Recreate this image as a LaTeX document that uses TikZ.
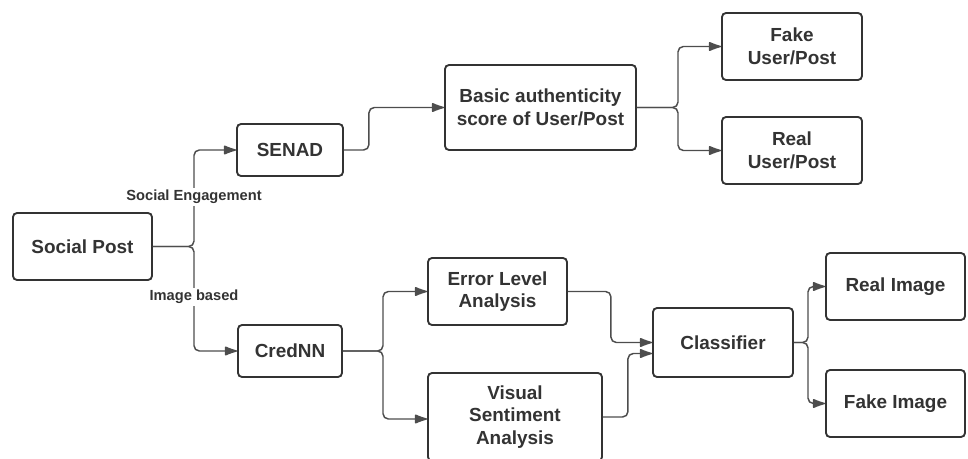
\documentclass[tikz,border=0pt]{standalone}
\usepackage{fontspec}
\setmainfont{Liberation Sans}
\usepackage{tikz}
\usetikzlibrary{shapes,arrows.meta,positioning}

\definecolor{ink}{HTML}{333333}
\definecolor{wire}{HTML}{4D4D4D}

\begin{document}
\begin{tikzpicture}[x=0.75pt, y=-0.75pt,
    box/.style={rectangle, draw=ink, line width=1.4pt, rounded corners=3pt, fill=white, align=center, text=ink,
        font=\fontsize{14.2pt}{17pt}\selectfont\bfseries, inner sep=0pt},
    lbl/.style={font=\fontsize{11pt}{13pt}\selectfont\bfseries, text=ink, fill=white, inner sep=1.5pt},
    wirepath/.style={draw=wire, line width=1.1pt, rounded corners=4pt,
        -{Latex[length=11pt,width=7.5pt,round]}}]
    \useasboundingbox (0,0) rectangle (968,459);
    \clip (0,0) rectangle (968,459);
    % nodes
    \node [box, minimum width=104.25pt, minimum height=50.25pt] (post) at (82.5,246.5) {Social Post};
    \node [box, minimum width=79.5pt, minimum height=39pt] (senad) at (290,150) {SENAD};
    \node [box, minimum width=143.25pt, minimum height=63.75pt] (basic) at (540.5,107.5) {Basic authenticity\\score of User/Post};
    \node [box, minimum width=105pt, minimum height=50.25pt] (fakeup) at (792,46.5) {Fake\\User/Post};
    \node [box, minimum width=105pt, minimum height=50.25pt] (realup) at (792,150.5) {Real\\User/Post};
    \node [box, minimum width=78pt, minimum height=39pt] (crednn) at (290,351) {CredNN};
    \node [box, minimum width=104.25pt, minimum height=50.25pt] (ela) at (497.5,291.5) {Error Level\\Analysis};
    \node [box, minimum width=130.5pt, minimum height=66pt] (vsa) at (515,417) {Visual\\Sentiment\\Analysis};
    \node [box, minimum width=105pt, minimum height=51.75pt] (clf) at (723,342.5) {Classifier};
    \node [box, minimum width=104.25pt, minimum height=50.25pt] (realimg) at (895.5,286.5) {Real Image};
    \node [box, minimum width=104.25pt, minimum height=50.25pt] (fakeimg) at (895.5,403.5) {Fake Image};
    % junctions
    \coordinate (j1) at (194,246.5);
    \coordinate (j2) at (678,107.5);
    \coordinate (j3) at (383,351);
    \coordinate (j4) at (808,342.5);
    % connectors
    \draw [wirepath] (post.east) -- (j1) |- (senad.west);
    \draw [wirepath] (post.east) -- (j1) |- (crednn.west);
    \draw [wirepath] (senad.east) -- ++(25,0) |- (basic.west);
    \draw [wirepath] (basic.east) -- (j2) |- (fakeup.west);
    \draw [wirepath] (basic.east) -- (j2) |- (realup.west);
    \draw [wirepath] (crednn.east) -- (j3) |- (ela.west);
    \draw [wirepath] (crednn.east) -- (j3) |- ([yshift=-1.5pt]vsa.west);
    \draw [wirepath] (ela.east) -- ++(43,0) |- (clf.west);
    \draw [wirepath] (vsa.east) -- ++(25,0) |- ([yshift=-8.25pt]clf.west);
    \draw [wirepath] (clf.east) -- (j4) |- (realimg.west);
    \draw [wirepath] (clf.east) -- (j4) |- (fakeimg.west);
    % branch labels
    \node [lbl] (engage) at (194,197) {Social Engagement};
    \node [lbl] (imgbased) at (194,297) {Image based};
\end{tikzpicture}
\end{document}
